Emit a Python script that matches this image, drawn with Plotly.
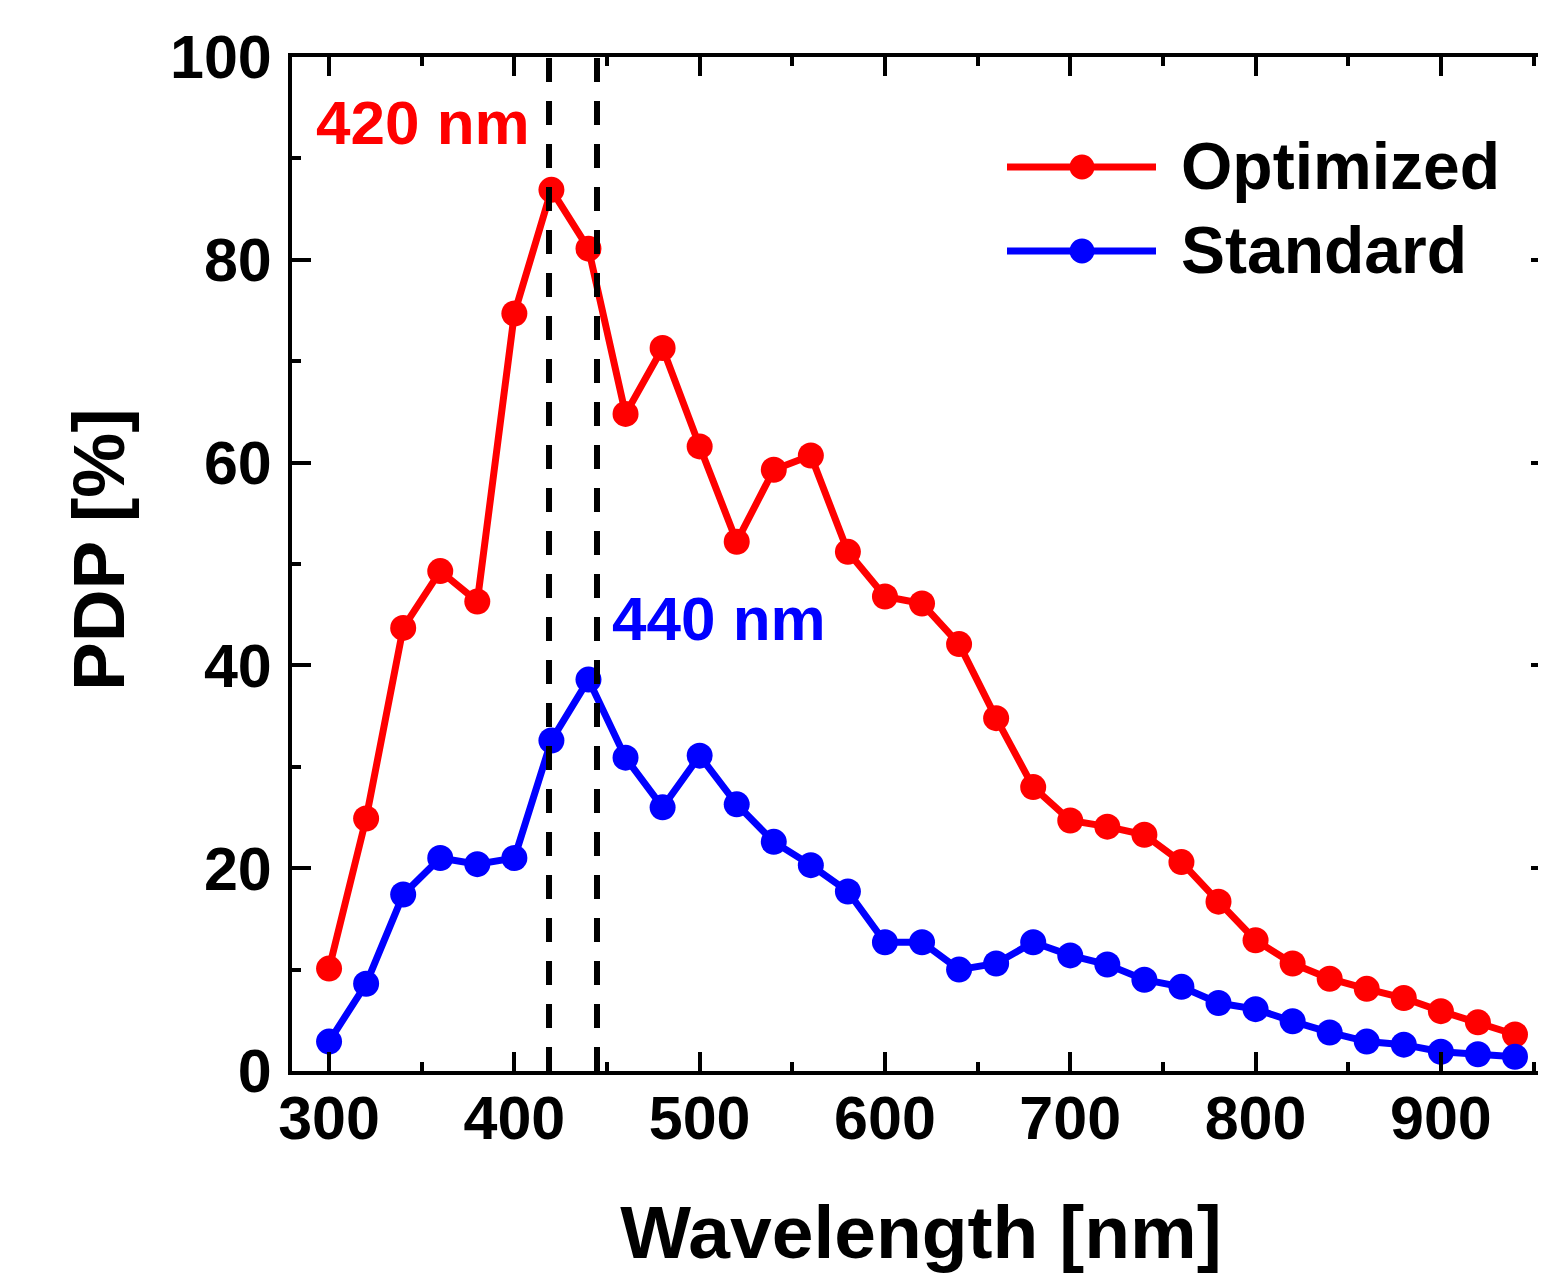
import plotly.graph_objects as go

wavelength = [300, 320, 340, 360, 380, 400, 420, 440, 460, 480, 500, 520, 540, 560, 580,
              600, 620, 640, 660, 680, 700, 720, 740, 760, 780, 800, 820, 840, 860, 880,
              900, 920, 940]
optimized = [10.1, 24.9, 43.7, 49.3, 46.3, 74.7, 86.9, 81.1, 64.8, 71.3, 61.6, 52.2, 59.3,
             60.7, 51.2, 46.8, 46.1, 42.1, 34.8, 28.0, 24.7, 24.1, 23.3, 20.6, 16.7, 12.9,
             10.6, 9.1, 8.1, 7.2, 5.9, 4.8, 3.6]
standard = [2.9, 8.6, 17.4, 21.0, 20.4, 21.0, 32.6, 38.6, 30.9, 26.0, 31.1, 26.3, 22.6,
            20.3, 17.7, 12.7, 12.7, 10.0, 10.6, 12.7, 11.4, 10.5, 9.0, 8.3, 6.7, 6.1, 4.9,
            3.8, 2.9, 2.6, 1.9, 1.65, 1.4]
series_names = ["Optimized", "Standard"]
series_colors = ["#ff0000", "#0000ff"]
peak_lines = [418.7, 444.6]
peak_labels = ["420 nm", "440 nm"]
x_ticks = [300, 400, 500, 600, 700, 800, 900]
y_ticks = [0, 20, 40, 60, 80, 100]

OFF = 8  # page offset (body margin)
W, H = 1542, 1271
L, T = 284, 49
R = 0
B = H - (1071 - OFF)
FONT = "Liberation Sans, Arial, sans-serif"

pw = W - L - R
ph = H - T - B


def px(xp):
    return (xp - OFF - L) / pw


def py(yp):
    return 1 - (yp - OFF - T) / ph


fig = go.Figure()
for name, ys, col in zip(series_names, [optimized, standard], series_colors):
    fig.add_trace(go.Scatter(x=wavelength, y=ys, mode="lines+markers", name=name,
                             line=dict(color=col, width=7),
                             marker=dict(color=col, size=26),
                             showlegend=False))

# dashed vertical lines
for xv in peak_lines:
    fig.add_shape(type="line", xref="x", yref="paper", x0=xv, x1=xv, y0=0, y1=1,
                  line=dict(color="black", width=6, dash="24px,19px"), layer="above")

# peak labels
fig.add_annotation(x=px(314), y=py(122), xref="paper", yref="paper", text=peak_labels[0],
                   showarrow=False, xanchor="left", yanchor="middle",
                   font=dict(family=FONT, size=62, color=series_colors[0], weight="bold"))
fig.add_annotation(x=px(610), y=py(618), xref="paper", yref="paper", text=peak_labels[1],
                   showarrow=False, xanchor="left", yanchor="middle",
                   font=dict(family=FONT, size=62, color=series_colors[1], weight="bold"))

# manual legend
legend_rows = [167, 251]
for name, col, yr in zip(series_names, series_colors, legend_rows):
    fig.add_shape(type="line", xref="paper", yref="paper", x0=px(1007), x1=px(1156),
                  y0=py(yr), y1=py(yr), line=dict(color=col, width=7))
    fig.add_shape(type="circle", xref="paper", yref="paper", xsizemode="pixel",
                  ysizemode="pixel", xanchor=px(1082), yanchor=py(yr),
                  x0=-12.5, x1=12.5, y0=-12.5, y1=12.5,
                  fillcolor=col, line=dict(color=col, width=0))
    fig.add_annotation(x=px(1179), y=py(yr - 1), xref="paper", yref="paper", text=name,
                       showarrow=False, xanchor="left", yanchor="middle",
                       font=dict(family=FONT, size=66, color="black", weight="bold"))

# y title as annotation
fig.add_annotation(x=px(98), y=py(550), xref="paper", yref="paper", text="PDP [%]",
                   showarrow=False, textangle=-90, xanchor="center", yanchor="middle",
                   font=dict(family=FONT, size=73, color="black", weight="bold"))

axis_common = dict(showgrid=False, zeroline=False, showline=True, linecolor="black",
                   linewidth=4, ticks="inside", ticklen=19, tickwidth=4, tickcolor="black",
                   mirror="ticks",
                   tickfont=dict(family=FONT, size=61, color="black", weight="bold"))

fig.update_xaxes(range=[280.0, 958.9], tickvals=x_ticks,
                 minor=dict(ticks="inside", ticklen=9, tickwidth=4, tickcolor="black", dtick=50,
                            tick0=250),
                 ticklabelstandoff=-9,
                 title=dict(text="Wavelength [nm]", standoff=55,
                            font=dict(family=FONT, size=75, color="black", weight="bold")),
                 **axis_common)
fig.update_yaxes(range=[0, 100], tickvals=y_ticks,
                 minor=dict(ticks="inside", ticklen=9, tickwidth=4, tickcolor="black", dtick=10,
                            tick0=0),
                 ticklabelstandoff=4,
                 **axis_common)

fig.update_layout(width=W, height=H, margin=dict(l=L, r=R, t=T, b=B, autoexpand=False),
                  plot_bgcolor="white", paper_bgcolor="white",
                  font=dict(family=FONT, color="black"))

fig.write_html("out.html")
